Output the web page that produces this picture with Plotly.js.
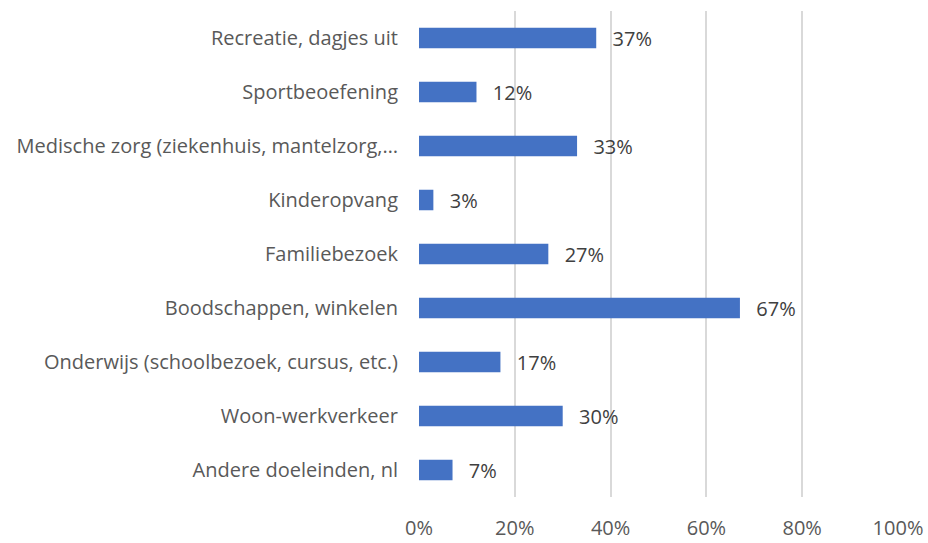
<!DOCTYPE html>
<html><head><meta charset="utf-8">
<script src="https://cdn.plot.ly/plotly-3.0.1.min.js"></script>
<style>html,body{margin:0;padding:0;background:#fff}#chart{width:928px;height:543px}</style>
</head><body><div id="chart"></div>
<script>
const categories = ["Recreatie, dagjes uit","Sportbeoefening","Medische zorg (ziekenhuis, mantelzorg,…","Kinderopvang","Familiebezoek","Boodschappen, winkelen","Onderwijs (schoolbezoek, cursus, etc.)","Woon-werkverkeer","Andere doeleinden, nl"];
const values = [37,12,33,3,27,67,17,30,7];
const tickVals = [0,20,40,60,80,100];
const tickLabels = ["0%","20%","40%","60%","80%","100%"];

const font = "'Open Sans', sans-serif";
Plotly.newPlot('chart', [{
  type:'bar', orientation:'h',
  x: values, y: categories,
  marker:{color:'#4472C4'},
  text: values.map(v => '\u2002\u2009' + v + '%'),
  textposition:'outside', cliponaxis:false, constraintext:'none',
  textfont:{family:font, size:20, color:'#404040'},
  hoverinfo:'none'
}], {
  width:928, height:543,
  margin:{l:419, r:30, t:11, b:46},
  paper_bgcolor:'#fff', plot_bgcolor:'#fff',
  bargap:0.62,
  showlegend:false,
  xaxis:{range:[0,100], tickvals:tickVals, ticktext:tickLabels, showgrid:true, gridcolor:'#d9d9d9', gridwidth:2,
         zeroline:false, showline:false, ticks:'', ticklabelstandoff:17,
         tickfont:{family:font, size:20, color:'#595959'}, fixedrange:true},
  yaxis:{autorange:'reversed', showgrid:false, zeroline:false, showline:false, ticks:'', ticklabelstandoff:20,
         tickfont:{family:font, size:20, color:'#595959'}, fixedrange:true}
}, {displayModeBar:false, staticPlot:true});
</script></body></html>
